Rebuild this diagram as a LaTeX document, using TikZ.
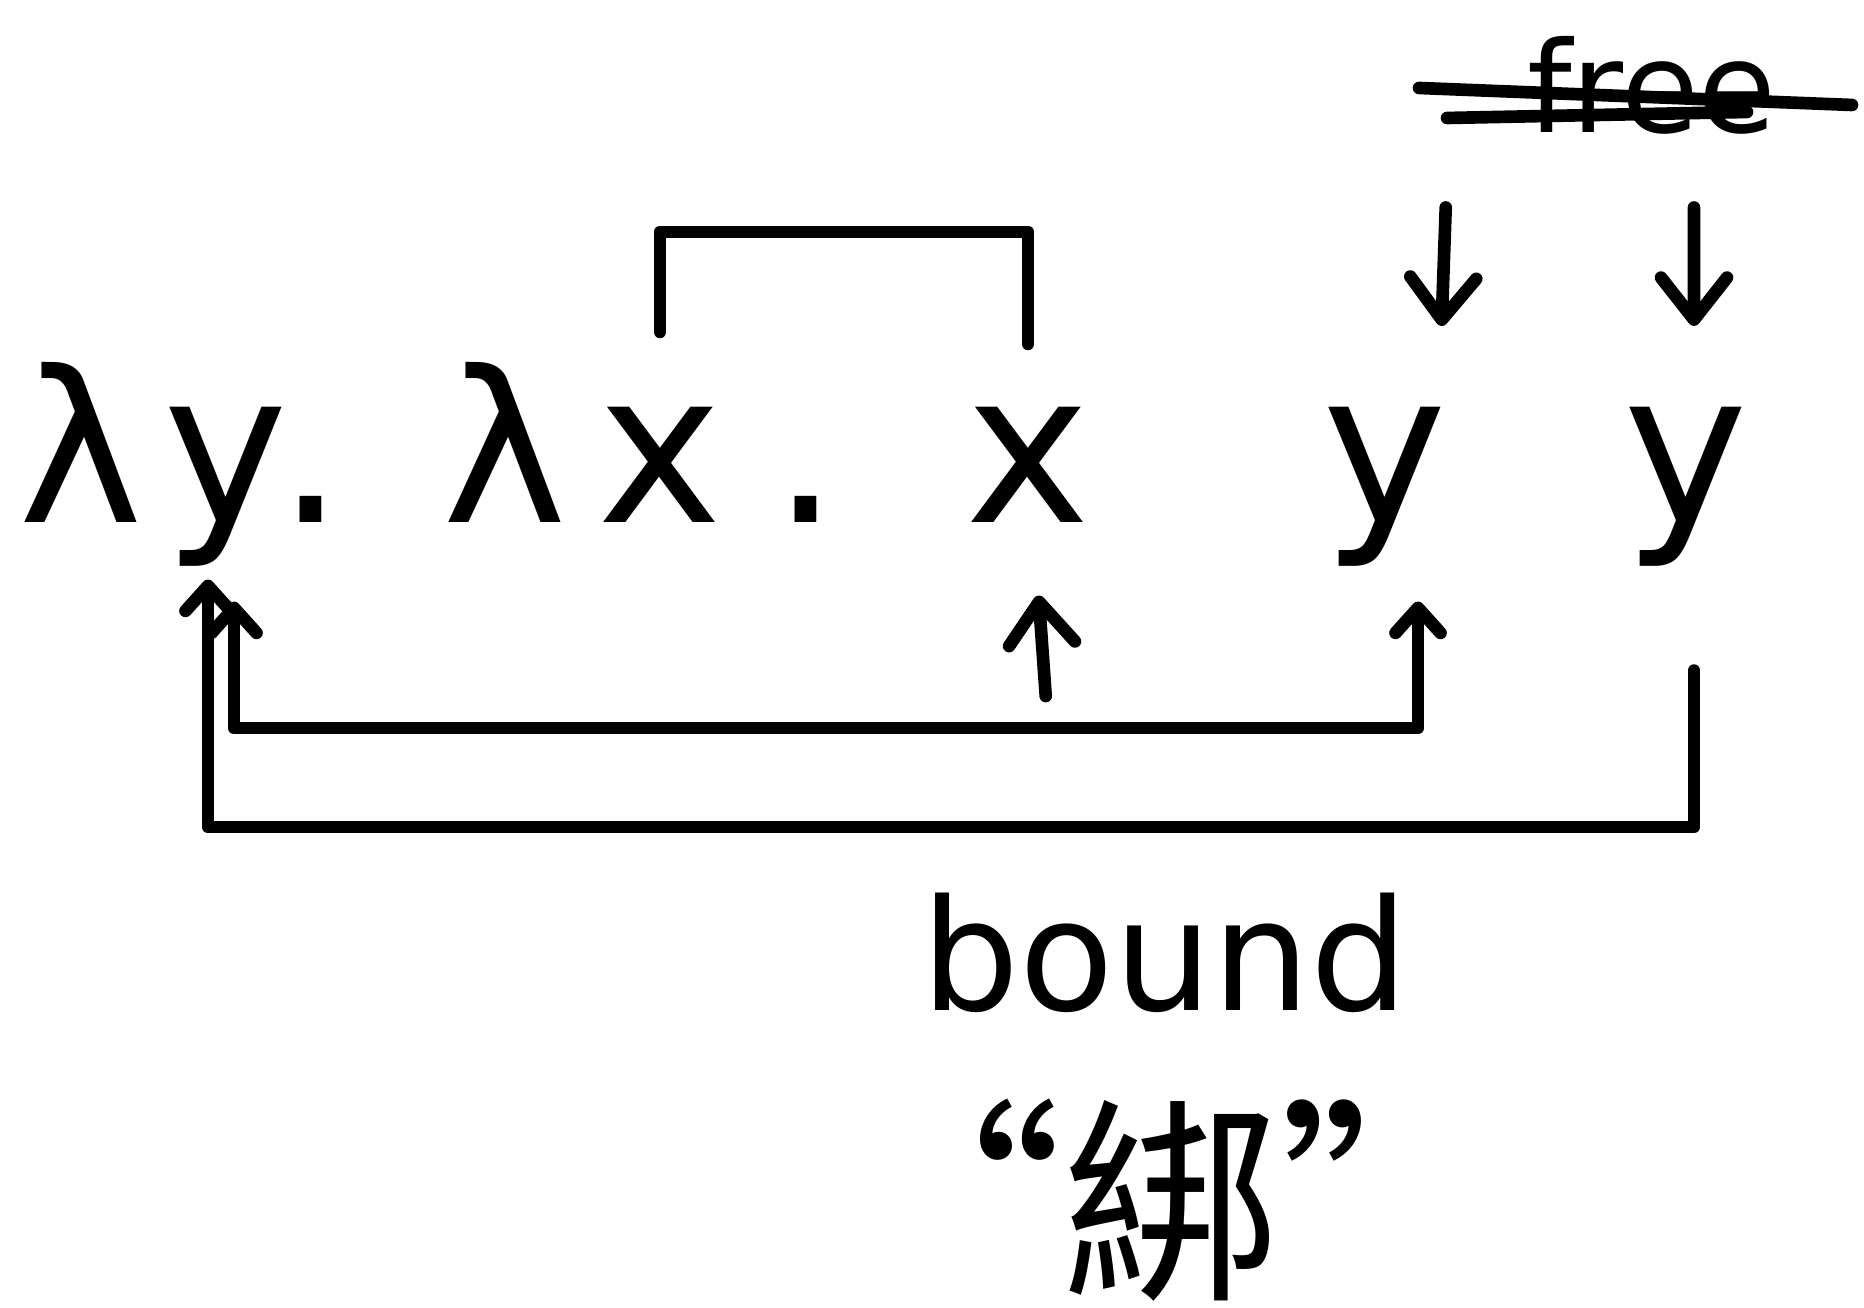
\documentclass[tikz,border=0pt]{standalone}
\usepackage{fontspec}
\setmainfont{DejaVu Sans}
\newfontfamily\cjkfont{Noto Sans CJK TC}
\usetikzlibrary{arrows.meta}
\tikzset{
  lamsym/.style={font=\fontsize{60}{60}\selectfont, anchor=base},
  inkline/.style={line width=3.6pt, line cap=round, line join=round},
  smallbarb/.style={>={Straight Barb[length=2.5mm,width=4.5mm,round]}},
}

\begin{document}
\begin{tikzpicture}[>={Straight Barb[length=4.2mm,width=6.6mm,round]}, every node/.style={inner sep=2pt}]
  \useasboundingbox (0,0) rectangle (18.64,13.08);
  \node[lamsym] (lamy) at (0.81,7.85) {λ};
  \node[lamsym] (y0) at (2.26,7.85) {y};
  \node[lamsym] (dot0) at (3.11,7.85) {.};
  \node[lamsym] (lamx) at (5.05,7.85) {λ};
  \node[lamsym] (x0) at (6.60,7.85) {x};
  \node[lamsym] (dot1) at (8.06,7.85) {.};
  \node[lamsym] (x1) at (10.28,7.85) {x};
  \node[lamsym] (y1) at (13.85,7.85) {y};
  \node[lamsym] (y2) at (16.86,7.85) {y};

  \node[anchor=base, font=\fontsize{36}{36}\selectfont] (free) at (16.52,11.75) {free};
  \node[anchor=base, font=\fontsize{44}{44}\selectfont] (bound) at (11.65,2.97) {bound};
  \node[font=\cjkfont\fontsize{62}{62}\selectfont] (bang) at (11.71,1.08) {“綁”};

  \coordinate (bar) at (8.3,10.76);
  \coordinate (lowa) at (8.3,5.80);
  \coordinate (lowb) at (8.3,4.81);

  \draw[inkline] (14.19,12.20) -- (18.52,12.03);
  \draw[inkline] (14.47,11.90) -- (17.47,11.96);

  \draw[inkline, ->, shorten <=0.65cm, shorten >=0.74cm] ([xshift=-2.04cm]free.south) -- ([xshift=0.54cm]y1.north);
  \draw[inkline, ->, shorten <=0.65cm, shorten >=0.74cm] ([xshift=0.42cm]free.south) -- ([xshift=0.08cm]y2.north);

  \draw[inkline, shorten <=0.68cm, shorten >=0.56cm] (x0.north) |- (bar) -| (x1.north);

  \draw[inkline, smallbarb, <->, shorten <=0.27cm, shorten >=0.27cm] ([xshift=0.08cm]y0.south) |- (lowa) -| ([xshift=0.33cm]y1.south);
  \draw[inkline, smallbarb, <-, shorten <=0.05cm, shorten >=0.96cm] ([xshift=-0.18cm]y0.south) |- (lowb) -| ([xshift=0.08cm]y2.south);
  \draw[inkline, ->, shorten <=0.32cm, shorten >=0.65cm] ([xshift=0.2cm]x1.south |- lowa) -- ([xshift=0.06cm]x1.south);
\end{tikzpicture}
\end{document}
